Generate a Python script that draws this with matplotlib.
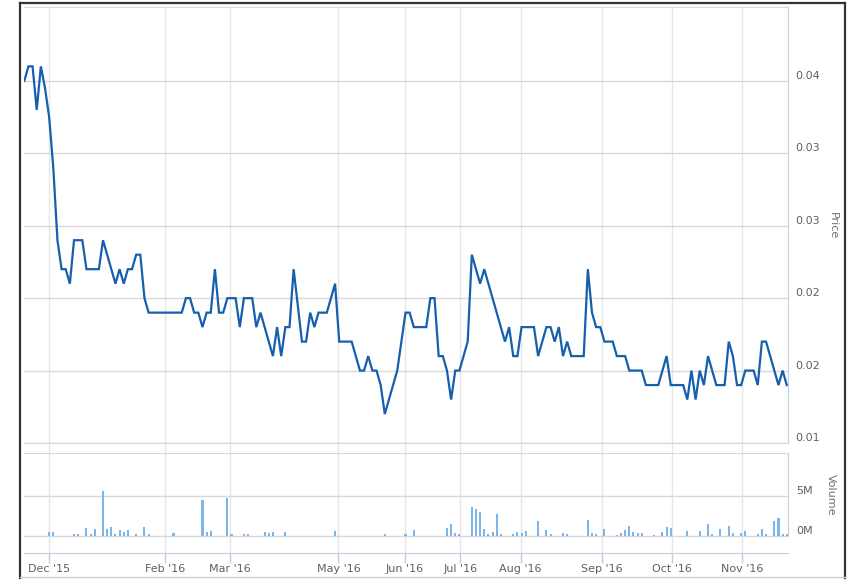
import matplotlib
matplotlib.use("Agg")
import matplotlib.pyplot as plt
from matplotlib.lines import Line2D

# --- Data (one value per traded day, ordinal x axis) ---
price = [
    0.035, 0.036, 0.036, 0.033, 0.036, 0.0345, 0.0325, 0.029, 0.024, 0.022,
    0.022, 0.021, 0.024, 0.024, 0.024, 0.022, 0.022, 0.022, 0.022, 0.024,
    0.023, 0.022, 0.021, 0.022, 0.021, 0.022, 0.022, 0.023, 0.023, 0.020,
    0.019, 0.019, 0.019, 0.019, 0.019, 0.019, 0.019, 0.019, 0.019, 0.020,
    0.020, 0.019, 0.019, 0.018, 0.019, 0.019, 0.022, 0.019, 0.019, 0.020,
    0.020, 0.020, 0.018, 0.020, 0.020, 0.020, 0.018, 0.019, 0.018, 0.017,
    0.016, 0.018, 0.016, 0.018, 0.018, 0.022, 0.0195, 0.017, 0.017, 0.019,
    0.018, 0.019, 0.019, 0.019, 0.020, 0.021, 0.017, 0.017, 0.017, 0.017,
    0.016, 0.015, 0.015, 0.016, 0.015, 0.015, 0.014, 0.012, 0.013, 0.014,
    0.015, 0.017, 0.019, 0.019, 0.018, 0.018, 0.018, 0.018, 0.020, 0.020,
    0.016, 0.016, 0.015, 0.013, 0.015, 0.015, 0.016, 0.017, 0.023, 0.022,
    0.021, 0.022, 0.021, 0.020, 0.019, 0.018, 0.017, 0.018, 0.016, 0.016,
    0.018, 0.018, 0.018, 0.018, 0.016, 0.017, 0.018, 0.018, 0.017, 0.018,
    0.016, 0.017, 0.016, 0.016, 0.016, 0.016, 0.022, 0.019, 0.018, 0.018,
    0.017, 0.017, 0.017, 0.016, 0.016, 0.016, 0.015, 0.015, 0.015, 0.015,
    0.014, 0.014, 0.014, 0.014, 0.015, 0.016, 0.014, 0.014, 0.014, 0.014,
    0.013, 0.015, 0.013, 0.015, 0.014, 0.016, 0.015, 0.014, 0.014, 0.014,
    0.017, 0.016, 0.014, 0.014, 0.015, 0.015, 0.015, 0.014, 0.017, 0.017,
    0.016, 0.015, 0.014, 0.015, 0.014,
]

# days (point index) that had volume, and volume in millions
vol_days = [6, 7, 12, 13, 15, 16, 17, 19, 20, 21, 22, 23, 24, 25, 27, 29, 30, 36, 43, 44,
            45, 49, 50, 53, 54, 58, 59, 60, 63, 75, 87, 92, 94, 102, 103, 104, 105, 108, 109, 110,
            111, 112, 113, 114, 115, 118, 119, 120, 121, 124, 126, 127, 130, 131, 136, 137, 138, 140, 143, 144,
            145, 146, 147, 148, 149, 152, 154, 155, 156, 160, 163, 165, 166, 168, 170, 171, 173, 174, 177, 178,
            179, 181, 182, 183, 184]
vol_m = [0.46, 0.46, 0.2, 0.3, 1.0, 0.2, 0.87, 5.6, 0.83, 1.08, 0.2, 0.7, 0.46, 0.7, 0.3, 1.08, 0.2, 0.33, 4.54, 0.5,
         0.58, 4.8, 0.2, 0.2, 0.3, 0.46, 0.33, 0.46, 0.46, 0.58, 0.3, 0.2, 0.75, 1.0, 1.5, 0.33, 0.2, 3.6, 3.4, 3.0,
         0.83, 0.2, 0.5, 2.75, 0.2, 0.2, 0.46, 0.33, 0.62, 1.9, 0.7, 0.2, 0.33, 0.2, 2.0, 0.33, 0.2, 0.83, 0.17, 0.37,
         0.7, 1.2, 0.5, 0.37, 0.33, 0.17, 0.5, 1.08, 1.0, 0.62, 0.62, 1.5, 0.2, 0.83, 1.25, 0.33, 0.33, 0.58, 0.2, 0.83,
         0.2, 1.9, 2.25, 0.2, 0.2]

# month ticks sit between points on the ordinal axis
month_pos = [6.0, 34.0, 49.7, 75.8, 91.9, 105.2, 119.8, 139.4, 156.2, 173.3]
month_labels = ["Dec '15", "Feb '16", "Mar '16", "May '16", "Jun '16",
                "Jul '16", "Aug '16", "Sep '16", "Oct '16", "Nov '16"]

price_ticks = [0.01, 0.015, 0.02, 0.025, 0.03, 0.035]
price_tick_labels = ["0.01", "0.02", "0.02", "0.03", "0.03", "0.04"]
vol_ticks = [0, 5]
vol_tick_labels = ["0M", "5M"]

# --- Styling ---
LINE_COLOR = "#155fae"
BAR_COLOR = "#7cb5ec"
GRID_H = "#d8d8d8"
GRID_V = "#e6e6e6"
AXIS_COLOR = "#c0d0e0"
LABEL_COLOR = "#606060"

W, H = 848, 580
fig = plt.figure(figsize=(W / 100, H / 100), dpi=100)
fig.patch.set_facecolor("white")

def fx(px):
    return px / W

def fy(py):
    return 1 - py / H

left, right = 24, 788
ax = fig.add_axes([fx(left), fy(443), fx(right - left), fy(7) - fy(443)])
axv = fig.add_axes([fx(left), fy(553), fx(right - left), fy(453) - fy(553)])

n = len(price)
x = list(range(n))
xmin, xmax = -0.07, n - 1 + 0.3

# --- Price pane ---
ax.plot(x, price, color=LINE_COLOR, lw=1.6, solid_joinstyle="miter", zorder=3)
ax.set_xlim(xmin, xmax)
ax.set_ylim(0.01, 0.0401)
ax.set_xticks([])
ax.set_yticks(price_ticks)
ax.set_yticklabels(price_tick_labels)
ax.yaxis.tick_right()
ax.tick_params(axis="y", length=0, pad=5, labelsize=8, labelcolor=LABEL_COLOR)
for lab in ax.get_yticklabels():
    lab.set_verticalalignment("bottom")
ax.grid(axis="y", color=GRID_H, lw=1)
for p in month_pos:
    ax.axvline(p, ymin=-0.024, ymax=1, color=GRID_V, lw=1, clip_on=False, zorder=0)
ax.spines["left"].set_visible(False)
ax.spines["bottom"].set_color(GRID_H)
ax.spines["top"].set_color(GRID_H)
ax.spines["right"].set_color(AXIS_COLOR)
ax.set_axisbelow(True)

# --- Volume pane ---
axv.bar(vol_days, vol_m, width=0.5, color=BAR_COLOR, zorder=3)
axv.set_xlim(xmin, xmax)
axv.set_ylim(-2.125, 10.375)
axv.set_yticks(vol_ticks)
axv.set_yticklabels(vol_tick_labels)
axv.yaxis.tick_right()
axv.tick_params(axis="y", length=0, pad=6, labelsize=8, labelcolor=LABEL_COLOR)
for lab in axv.get_yticklabels():
    lab.set_verticalalignment("bottom")
axv.set_xticks(month_pos)
axv.set_xticklabels(month_labels)
axv.tick_params(axis="x", length=7, width=1, color=AXIS_COLOR, pad=1,
                labelsize=8, labelcolor=LABEL_COLOR)
axv.grid(axis="y", color=GRID_H, lw=1)
axv.grid(axis="x", color=GRID_V, lw=1)
axv.spines["left"].set_visible(False)
axv.spines["top"].set_color(GRID_H)
axv.spines["bottom"].set_color(AXIS_COLOR)
axv.spines["right"].set_color(AXIS_COLOR)
axv.spines["right"].set_bounds(0, 10.375)
axv.set_axisbelow(True)

# axis titles, rotated like the original
fig.text(fx(833), fy(226), "Price", rotation=270, ha="center", va="center",
         fontsize=8, color="#707070")
fig.text(fx(831), fy(495), "Volume", rotation=270, ha="center", va="center",
         fontsize=8, color="#707070")

# outer frame of the widget
frame = dict(transform=fig.transFigure, lw=1.6, color="#333333")
fig.add_artist(Line2D([fx(20), fx(845)], [fy(3), fy(3)], **frame))
fig.add_artist(Line2D([fx(20), fx(20)], [fy(3), fy(578)], **frame))
fig.add_artist(Line2D([fx(845), fx(845)], [fy(3), fy(578)], **frame))
fig.add_artist(Line2D([fx(20), fx(845)], [fy(577), fy(577)],
                      transform=fig.transFigure, lw=1, color="#cccccc"))

fig.savefig("out.png", dpi=100, facecolor="white")
